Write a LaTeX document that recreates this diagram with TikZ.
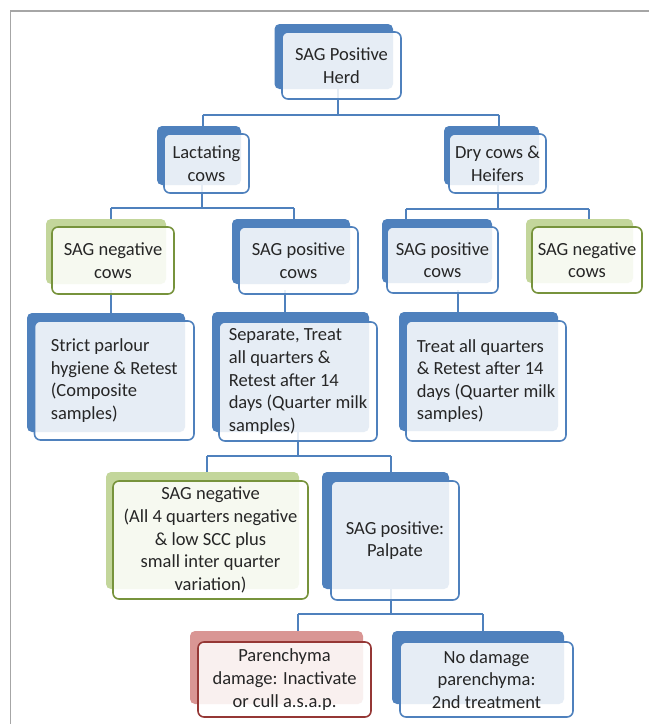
\documentclass[tikz,border=0pt]{standalone}
\usepackage{fontspec}
\setmainfont{Carlito}
\definecolor{bl}{HTML}{4F81BD}
\definecolor{gnb}{HTML}{C3D69B}
\definecolor{gno}{HTML}{77933C}
\definecolor{rdb}{HTML}{D99694}
\definecolor{rdo}{HTML}{953735}
\definecolor{txt}{HTML}{262626}
\definecolor{frm}{HTML}{A6A6A6}
\tikzset{
  base/.style={rectangle, inner sep=0pt, outer sep=0pt},
  backbox/.style={base, fill=#1, rounded corners=5pt},
  frontbox/.style={base, draw=#1, line width=1.6pt, rounded corners=6pt, fill=white, fill opacity=0.86, text opacity=1, text=txt, font=\fontsize{18.5}{22.6}\selectfont, align=center},
  conn/.style={draw=bl, line width=2pt},
}
\begin{document}
\begin{tikzpicture}[x=1pt,y=-1pt]
\useasboundingbox (0,0) rectangle (649,724);
\draw[frm, line width=1.3pt] (10.5,724) -- (10.5,11) -- (649,11);

% back boxes
\node[backbox=bl,  minimum width=118.5pt, minimum height=65pt] (herdB)  at (333.75,56.5) {};
\node[backbox=bl,  minimum width=84pt,  minimum height=59pt] (lactB)  at (199,155.5) {};
\node[backbox=bl,  minimum width=95pt,  minimum height=59pt] (dryB)   at (491.5,155.5) {};
\node[backbox=gnb, minimum width=120pt, minimum height=65pt] (negLB)  at (106,251.5) {};
\node[backbox=bl,  minimum width=118pt, minimum height=65pt] (posLB)  at (291,251.5) {};
\node[backbox=bl,  minimum width=110pt, minimum height=64pt] (posRB)  at (437,251) {};
\node[backbox=gnb, minimum width=107pt, minimum height=64pt] (negRB)  at (579.5,251) {};
\node[backbox=bl,  minimum width=158pt, minimum height=119pt] (strictB) at (106,372.5) {};
\node[backbox=bl,  minimum width=157pt, minimum height=120pt] (sepB)   at (290.5,372) {};
\node[backbox=bl,  minimum width=159pt, minimum height=119pt] (treatB) at (478.5,371.5) {};
\node[backbox=gnb, minimum width=193pt, minimum height=117pt] (negAB)  at (202.5,530.5) {};
\node[backbox=bl,  minimum width=127pt, minimum height=117pt] (palpB)  at (385.5,530.5) {};
\node[backbox=rdb, minimum width=173pt, minimum height=73pt] (parenB) at (276.5,667.5) {};
\node[backbox=bl,  minimum width=172pt, minimum height=73pt] (nodamB) at (478,667.5) {};

% connectors
\coordinate (j0) at (338,115);
\coordinate (j1) at (202.5,115);
\coordinate (j2) at (499,115);
\draw[conn] (herdB.south -| j0) -- (j0);
\draw[conn] (j1) -- (j2);
\draw[conn] (j1) -- (j1 |- lactB.north);
\draw[conn] (j2) -- (j2 |- dryB.north);

\coordinate (k0) at (202,208);
\coordinate (k1) at (111,208);
\coordinate (k2) at (294,208);
\draw[conn] (k0 |- lactB.south) -- (k0);
\draw[conn] (k1) -- (k2);
\draw[conn] (k1) -- (k1 |- negLB.north);
\draw[conn] (k2) -- (k2 |- posLB.north);

\coordinate (m0) at (498,209);
\coordinate (m1) at (406,209);
\coordinate (m2) at (589,209);
\draw[conn] (m0 |- dryB.south) -- (m0);
\draw[conn] (m1) -- (m2);
\draw[conn] (m1) -- (m1 |- posRB.north);
\draw[conn] (m2) -- (m2 |- negRB.north);

\coordinate (n1) at (111,290);
\coordinate (n2) at (285,290);
\coordinate (n3) at (458,290);
\draw[conn] (n1) -- (n1 |- strictB.north);
\draw[conn] (n2) -- (n2 |- sepB.north);
\draw[conn] (n3) -- (n3 |- treatB.north);

\coordinate (p0) at (298,456);
\coordinate (p1) at (207,456);
\coordinate (p2) at (391,456);
\draw[conn] (p0 |- sepB.south) -- (p0);
\draw[conn] (p1) -- (p2);
\draw[conn] (p1) -- (p1 |- negAB.north);
\draw[conn] (p2) -- (p2 |- palpB.north);

\coordinate (q0) at (391,614);
\coordinate (q1) at (298,614);
\coordinate (q2) at (483,614);
\draw[conn] (q0 |- palpB.south) -- (q0);
\draw[conn] (q1) -- (q2);
\draw[conn] (q1) -- (q1 |- parenB.north);
\draw[conn] (q2) -- (q2 |- nodamB.north);

% front boxes
\node[frontbox=bl,  minimum width=119pt, minimum height=67pt] (herd)  at (341.5,65.5) {SAG Positive\\Herd};
\node[frontbox=bl,  minimum width=85pt,  minimum height=59pt] (lact)  at (206.5,163.5) {Lactating\\cows};
\node[frontbox=bl,  minimum width=97pt,  minimum height=59pt] (dry)   at (497.5,163.5) {Dry cows \&\\Heifers};
\node[frontbox=gno, minimum width=122pt, minimum height=67pt] (negL)  at (113,260.5) {SAG negative\\cows};
\node[frontbox=bl,  minimum width=119pt, minimum height=67pt] (posL)  at (298.5,260.5) {SAG positive\\cows};
\node[frontbox=bl,  minimum width=111pt, minimum height=66pt] (posR)  at (442.5,260) {SAG positive\\cows};
\node[frontbox=gno, minimum width=110pt, minimum height=66pt] (negR)  at (587,260) {SAG negative\\cows};
\node[frontbox=bl,  align=left, minimum width=159.5pt, minimum height=119pt] (strict) at (114.25,380.5) {Strict parlour\\hygiene \& Retest\\(Composite\\samples)};
\node[frontbox=bl,  align=left, minimum width=158pt, minimum height=119pt] (sep)   at (298,381.5) {Separate, Treat\\all quarters \&\\Retest after 14\\days (Quarter milk\\samples)};
\node[frontbox=bl,  align=left, minimum width=160pt, minimum height=120pt] (treat) at (486,381) {Treat all quarters\\\& Retest after 14\\days (Quarter milk\\samples)};
\node[frontbox=gno, minimum width=195pt, minimum height=118pt] (negA)  at (210.5,540) {SAG negative\\(All 4 quarters negative\\\& low SCC plus\\small inter quarter\\variation)};
\node[frontbox=bl,  minimum width=128pt, minimum height=119pt] (palp)  at (395,540.5) {SAG positive:\\Palpate};
\node[frontbox=rdo, minimum width=173pt, minimum height=75pt] (paren) at (284.5,679.5) {Parenchyma\\damage: Inactivate\\or cull a.s.a.p.};
\node[frontbox=bl,  minimum width=173pt, minimum height=75pt] (nodam) at (486.5,679.5) {No damage\\parenchyma:\\2nd treatment};
\end{tikzpicture}
\end{document}
